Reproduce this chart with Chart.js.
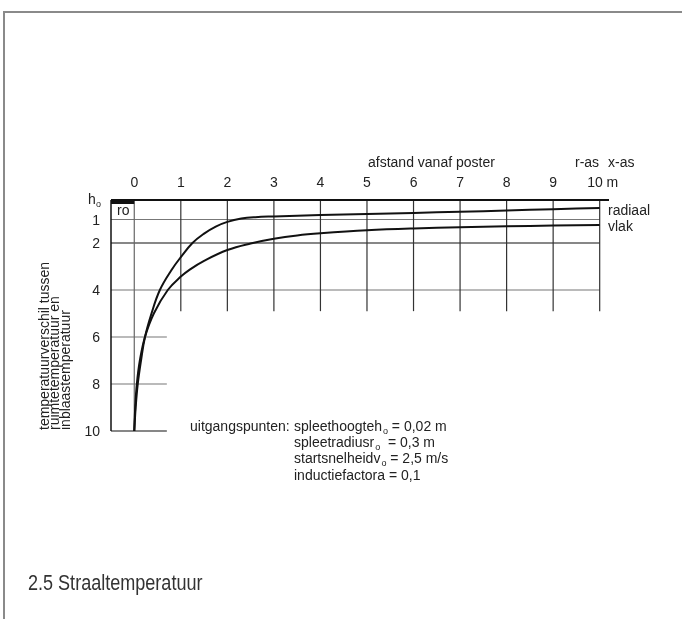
<!DOCTYPE html>
<html>
<head>
<meta charset="utf-8">
<script src="https://cdn.jsdelivr.net/npm/chart.js@4.4.0/dist/chart.umd.min.js"></script>
<style>
  body { margin: 0; background: #fff; }
  #wrap { width: 682px; height: 619px; }
</style>
</head>
<body>
<div id="wrap"><canvas id="chart" width="682" height="619"></canvas></div>
<script>
// ============ DATA ============
const xTicks = [0, 1, 2, 3, 4, 5, 6, 7, 8, 9, 10];
const xTickLabels = ['0', '1', '2', '3', '4', '5', '6', '7', '8', '9', '10 m'];
const yTicks = [1, 2, 4, 6, 8, 10];
const yTickLabels = ['1', '2', '4', '6', '8', '10'];
const yLongGrid = [1, 2, 4];
const yShortGrid = [6, 8, 10];

const radiaalX = [0, 0.03, 0.075, 0.145, 0.23, 0.37, 0.55, 0.8, 1.0, 1.25, 1.5, 1.75, 2.0, 2.3, 2.6, 3, 4, 5, 6, 7, 8, 9, 10];
const radiaalY = [10, 9, 8, 7, 6, 5, 4, 3.15, 2.6, 2.0, 1.6, 1.3, 1.1, 0.96, 0.9, 0.87, 0.81, 0.77, 0.72, 0.67, 0.62, 0.56, 0.51];

const vlakX = [0, 0.02, 0.055, 0.12, 0.23, 0.42, 0.72, 1.0, 1.2, 1.5, 2, 2.5, 3, 3.5, 4, 5, 6, 7, 8, 9, 10];
const vlakY = [10, 9, 8, 7, 6, 5, 4, 3.43, 3.12, 2.76, 2.3, 2.02, 1.82, 1.68, 1.59, 1.46, 1.38, 1.33, 1.29, 1.26, 1.23];

const assumptions = [
    { label: 'spleethoogte', sym: 'h', sub: 'o', value: ' = 0,02 m' },
    { label: 'spleetradius', sym: 'r', sub: 'o', value: '  = 0,3 m' },
    { label: 'startsnelheid', sym: 'v', sub: 'o', value: ' = 2,5 m/s' },
    { label: 'inductiefactor', sym: 'a', sub: '', value: ' = 0,1' }
];

const FONT = '"Liberation Sans", Arial, sans-serif';

function toPoints(xs, ys) {
    return xs.map((x, i) => ({ x: x, y: ys[i] }));
}

// ============ DRAWING PLUGIN ============
function line(ctx, x1, y1, x2, y2, color, width) {
    ctx.beginPath();
    ctx.strokeStyle = color;
    ctx.lineWidth = width;
    ctx.moveTo(x1, y1);
    ctx.lineTo(x2, y2);
    ctx.stroke();
}

const diagramPlugin = {
    id: 'diagram',
    beforeDatasetsDraw(chart) {
        const ctx = chart.ctx;
        const sx = chart.scales.x, sy = chart.scales.y;
        const px = v => sx.getPixelForValue(v);
        const py = v => sy.getPixelForValue(v);
        const left = chart.chartArea.left;
        const top = chart.chartArea.top;
        ctx.save();

        // page frame
        line(ctx, 3, 12, 682, 12, '#8a8a8a', 2);
        line(ctx, 4, 12, 4, 619, '#8a8a8a', 2);

        // horizontal grid
        yLongGrid.forEach(v => {
            line(ctx, left, py(v), px(10), py(v), v === 2 ? '#111' : '#777', 1.2);
        });
        yShortGrid.forEach(v => {
            line(ctx, left, py(v), px(0.7), py(v), v === 10 ? '#111' : '#777', 1.2);
        });

        // vertical grid
        xTicks.forEach(v => {
            const bottom = v === 0 ? py(10) : py(4.9);
            line(ctx, px(v), top, px(v), bottom, v === 0 ? '#666' : '#333', 1.2);
        });
        line(ctx, left, top, left, py(10), '#111', 1.5);

        // top line (h_o) and black block
        line(ctx, left, top, px(10.2), top, '#111', 2);
        ctx.fillStyle = '#111';
        ctx.fillRect(left, top - 1, px(0) - left, 5);
        ctx.restore();
    },
    afterDraw(chart) {
        const ctx = chart.ctx;
        const sx = chart.scales.x, sy = chart.scales.y;
        const px = v => sx.getPixelForValue(v);
        const py = v => sy.getPixelForValue(v);
        ctx.save();
        ctx.fillStyle = '#222';
        ctx.font = '14px ' + FONT;
        ctx.textBaseline = 'alphabetic';

        // x tick labels
        ctx.textAlign = 'center';
        xTicks.forEach((v, i) => {
            ctx.fillText(xTickLabels[i], px(v) + (i === 10 ? 3 : 0), 187);
        });
        ctx.textAlign = 'left';
        ctx.fillText('afstand vanaf poster', 368, 167);
        ctx.fillText('r-as', 575, 167);
        ctx.fillText('x-as', 608, 167);

        // y tick labels
        ctx.textAlign = 'right';
        ctx.textBaseline = 'middle';
        yTicks.forEach((v, i) => {
            ctx.fillText(yTickLabels[i], 100, py(v) + (v === 1 ? 2 : 1));
        });
        ctx.textAlign = 'left';
        ctx.textBaseline = 'alphabetic';
        ctx.fillText('h', 88, 204);
        ctx.font = '9px ' + FONT;
        ctx.fillText('o', 96, 207);
        ctx.font = '14px ' + FONT;
        ctx.fillText('ro', 117, 215);

        // series labels
        ctx.fillText('radiaal', 608, 215);
        ctx.fillText('vlak', 608, 231);

        // y axis title (rotated)
        ctx.save();
        ctx.translate(0, 430);
        ctx.rotate(-Math.PI / 2);
        ctx.textAlign = 'left';
        ctx.fillText('temperatuurverschil tussen', 0, 48.5);
        ctx.fillText('ruimtetemperatuur en', 0, 59);
        ctx.fillText('inblaastemperatuur', 0, 69.5);
        ctx.restore();

        // assumptions
        ctx.fillText('uitgangspunten:', 190, 431);
        assumptions.forEach((a, i) => {
            const y = 431 + i * 16.2;
            let x = 294;
            ctx.font = '14px ' + FONT;
            const main = a.label + a.sym;
            ctx.fillText(main, x, y);
            x += ctx.measureText(main).width;
            if (a.sub) {
                ctx.font = '9px ' + FONT;
                ctx.fillText(a.sub, x + 1, y + 3);
                x += ctx.measureText(a.sub).width + 1;
            }
            ctx.font = '14px ' + FONT;
            ctx.fillText(a.value, x, y);
        });

        // caption (condensed look)
        ctx.save();
        ctx.font = '22px ' + FONT;
        ctx.fillStyle = '#333';
        ctx.translate(28, 590);
        ctx.scale(0.82, 1);
        ctx.fillText('2.5 Straaltemperatuur', 0, 0);
        ctx.restore();
        ctx.restore();
    }
};

// ============ CHART ============
const ctx = document.getElementById('chart').getContext('2d');
new Chart(ctx, {
    type: 'line',
    data: {
        datasets: [
            {
                label: 'radiaal',
                data: toPoints(radiaalX, radiaalY),
                borderColor: '#111',
                borderWidth: 2,
                pointRadius: 0,
                tension: 0.4,
                clip: false
            },
            {
                label: 'vlak',
                data: toPoints(vlakX, vlakY),
                borderColor: '#111',
                borderWidth: 2,
                pointRadius: 0,
                tension: 0.4,
                clip: false
            }
        ]
    },
    options: {
        responsive: false,
        animation: false,
        layout: { padding: { left: 111, right: 73, top: 200, bottom: 188 } },
        plugins: { legend: { display: false }, tooltip: { enabled: false } },
        scales: {
            x: { type: 'linear', min: -0.5, max: 10.2, display: false },
            y: { type: 'linear', min: 0.17, max: 10, reverse: true, display: false }
        }
    },
    plugins: [diagramPlugin]
});
</script>
</body>
</html>
